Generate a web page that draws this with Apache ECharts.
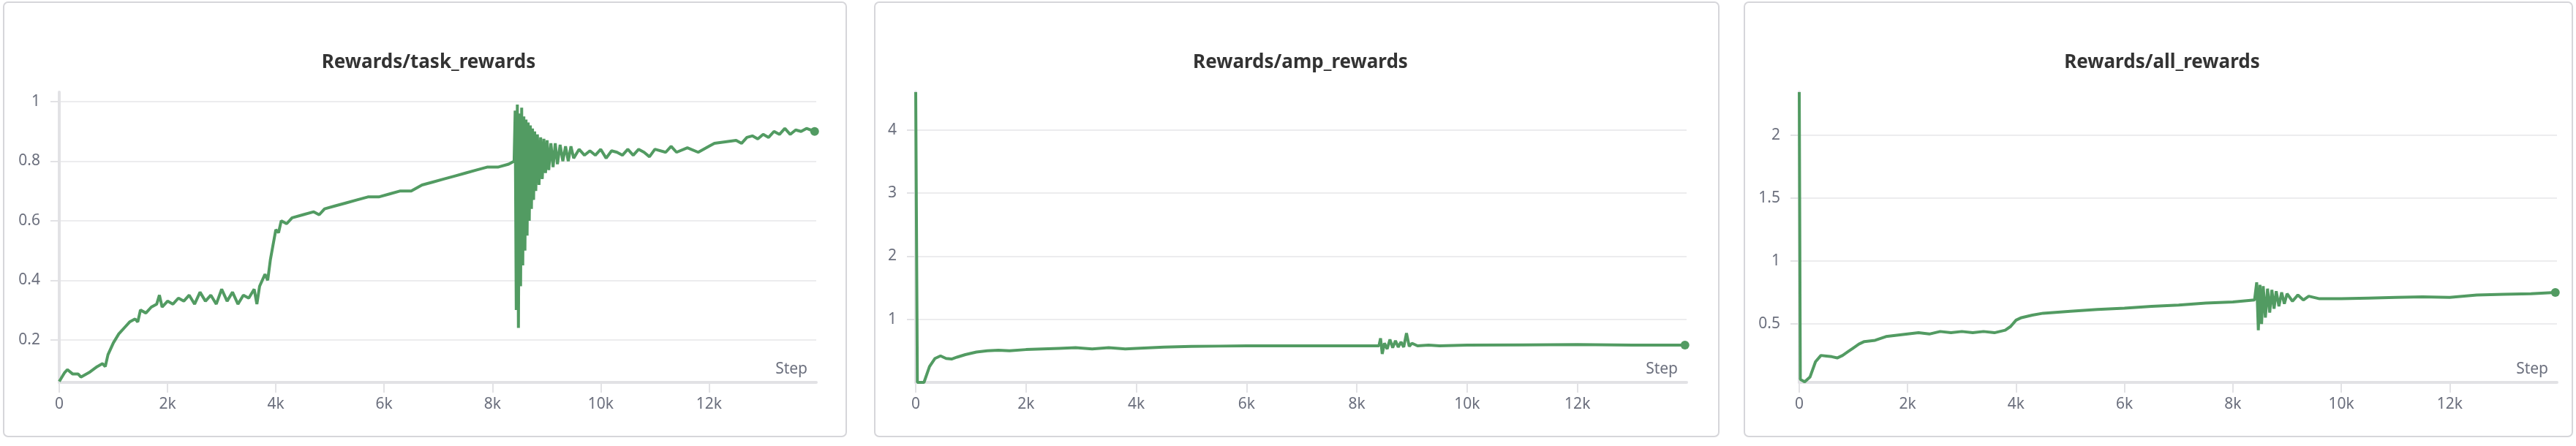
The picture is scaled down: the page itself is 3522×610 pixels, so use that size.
<!DOCTYPE html>
<html>
<head>
<meta charset="utf-8">
<script src="https://cdn.jsdelivr.net/npm/echarts@6/dist/echarts.min.js"></script>
<style>
html, body { margin: 0; padding: 0; background: #fff; }
#main { width: 3522px; height: 610px; }
</style>
</head>
<body>
<div id="main"></div>
<script>
// 三个面板的数据，都是从图上读出来的
var titles = ['Rewards/task_rewards', 'Rewards/amp_rewards', 'Rewards/all_rewards'];
var xTickLabels = ['0', '2k', '4k', '6k', '8k', '10k', '12k'];

var taskSteps = [0,100,150,250,350,400,550,700,800,850,900,1000,1100,1200,1300,1400,1450,1500,1600,1700,1800,1850,1900,2000,2100,2200,2300,2400,2500,2600,2700,2800,2900,3000,3100,3200,3300,3400,3500,3600,3650,3700,3800,3850,3900,3950,4000,4050,4100,4200,4300,4500,4700,4800,4900,5100,5300,5500,5700,5900,6100,6300,6500,6700,6900,7100,7300,7500,7700,7900,8100,8300,8400,
  8420,8440,8460,8480,8500,8520,8540,8560,8580,8600,8620,8640,8660,8680,8700,8720,8740,8760,8780,8800,8830,8860,8890,8920,8950,8980,9010,9040,9080,9120,9160,9200,9250,9300,9350,9400,9450,9500,9600,9700,9800,9900,10000,10100,10200,10300,10400,10500,10600,10700,10800,10900,11000,11200,11300,11400,11600,11800,12000,12100,12300,12500,12600,12700,12800,12900,13000,13100,13200,13300,13400,13500,13600,13700,13800,13950];
var taskValues = [0.06,0.09,0.10,0.085,0.085,0.075,0.09,0.11,0.12,0.11,0.15,0.19,0.22,0.24,0.26,0.27,0.26,0.30,0.29,0.31,0.32,0.35,0.31,0.33,0.32,0.34,0.33,0.35,0.32,0.36,0.33,0.35,0.32,0.37,0.33,0.36,0.32,0.35,0.34,0.37,0.32,0.38,0.42,0.40,0.47,0.52,0.57,0.56,0.60,0.59,0.61,0.62,0.63,0.62,0.64,0.65,0.66,0.67,0.68,0.68,0.69,0.70,0.70,0.72,0.73,0.74,0.75,0.76,0.77,0.78,0.78,0.79,0.80,
  0.97,0.30,0.99,0.24,0.96,0.38,0.98,0.45,0.95,0.50,0.94,0.55,0.93,0.60,0.92,0.64,0.91,0.67,0.90,0.70,0.89,0.72,0.88,0.74,0.875,0.76,0.87,0.77,0.86,0.78,0.86,0.79,0.855,0.80,0.85,0.80,0.85,0.81,0.84,0.82,0.835,0.82,0.84,0.81,0.835,0.83,0.82,0.84,0.82,0.84,0.83,0.815,0.84,0.83,0.85,0.83,0.845,0.83,0.85,0.86,0.865,0.87,0.86,0.88,0.885,0.875,0.89,0.88,0.90,0.89,0.91,0.89,0.905,0.90,0.91,0.90];

var ampSteps = [0,30,150,250,350,450,550,650,750,900,1100,1300,1500,1700,2000,2300,2600,2900,3200,3500,3800,4000,4500,5000,5500,6000,7000,8000,8400,8430,8460,8500,8550,8600,8650,8700,8750,8800,8850,8900,8950,9000,9100,9300,9500,10000,11000,12000,13000,13950];
var ampValues = [4.6,0.0,0.0,0.25,0.38,0.42,0.38,0.37,0.40,0.44,0.48,0.50,0.51,0.50,0.52,0.53,0.54,0.55,0.53,0.55,0.53,0.54,0.56,0.57,0.575,0.58,0.58,0.58,0.58,0.70,0.45,0.62,0.53,0.68,0.55,0.66,0.56,0.64,0.56,0.78,0.57,0.62,0.58,0.59,0.58,0.59,0.595,0.60,0.59,0.59];

var allSteps = [0,20,100,200,300,400,500,600,700,800,900,1000,1100,1200,1400,1600,1800,2000,2200,2400,2600,2800,3000,3200,3400,3600,3800,3900,4000,4100,4300,4500,5000,5500,6000,6500,7000,7500,8000,8400,
  8440,8470,8500,8530,8560,8600,8640,8680,8720,8760,8800,8850,8900,8950,9000,9100,9200,9300,9400,9600,10000,10500,11000,11500,12000,12500,13000,13500,13950];
var allValues = [2.34,0.06,0.04,0.08,0.20,0.25,0.245,0.24,0.23,0.25,0.28,0.31,0.34,0.36,0.37,0.40,0.41,0.42,0.43,0.42,0.44,0.43,0.44,0.43,0.44,0.43,0.45,0.48,0.53,0.55,0.57,0.585,0.60,0.615,0.625,0.64,0.65,0.665,0.675,0.69,
  0.83,0.45,0.81,0.50,0.80,0.55,0.78,0.59,0.77,0.62,0.76,0.64,0.75,0.66,0.74,0.68,0.73,0.69,0.72,0.70,0.70,0.705,0.71,0.715,0.71,0.73,0.735,0.74,0.75];

var yTicks = [[0.2, 0.4, 0.6, 0.8, 1], [1, 2, 3, 4], [0.5, 1, 1.5, 2]];
var yMin = [0.057, 0, 0.036];
var yMax = [1.032, 4.6, 2.34];

var stepsList = [taskSteps, ampSteps, allSteps];
var valuesList = [taskValues, ampValues, allValues];

// 面板位置
var boxes = [[5, 1157], [1196, 2350], [2385, 3517]];
var grids = [[81, 1035], [1252, 1054], [2460, 1036]];

var lineColor = '#529b62';
var labelColor = '#6b6f7d';
var axisGray = '#e2e2e5';

var option = {
  animation: false,
  title: [], grid: [], xAxis: [], yAxis: [], series: [], graphic: []
};

for (var i = 0; i < 3; i++) {
  var b = boxes[i], g = grids[i];
  option.graphic.push({
    type: 'rect', z: -10,
    shape: { x: b[0], y: 3, width: b[1] - b[0], height: 594, r: 6 },
    style: { fill: '#fff', stroke: '#d6d6da', lineWidth: 2 }
  });
  option.graphic.push({
    type: 'text',
    style: { text: 'Step', x: g[0] + g[1] - 12, y: 505, align: 'right', verticalAlign: 'middle',
      fill: labelColor, font: '21px "Noto Sans"' }
  });
  option.title.push({
    text: titles[i], left: (b[0] + b[1]) / 2, top: 68, textAlign: 'center',
    textStyle: { fontFamily: 'Noto Sans', fontSize: 26, fontWeight: 'bold', color: '#333' }
  });
  option.grid.push({ left: g[0], width: g[1], top: 126, height: 397 });
  option.xAxis.push({
    type: 'value', gridIndex: i, min: 0, max: 13980, interval: 2000,
    axisLine: { show: true, lineStyle: { color: axisGray, width: 4 } },
    axisTick: { show: true, length: 14, lineStyle: { color: axisGray, width: 2 } },
    splitLine: { show: false },
    axisLabel: {
      color: labelColor, fontFamily: 'Noto Sans', fontSize: 21, margin: 20,
      showMaxLabel: false,
      formatter: function (v) { return xTickLabels[Math.round(v / 2000)]; }
    }
  });
  option.yAxis.push({
    type: 'value', gridIndex: i, min: yMin[i], max: yMax[i],
    axisLine: { show: true, lineStyle: { color: axisGray, width: 4 } },
    axisTick: { show: true, length: 12, customValues: yTicks[i], lineStyle: { color: axisGray, width: 2 } },
    splitLine: { show: true, lineStyle: { color: '#ececee', width: 2 } },
    axisLabel: { customValues: yTicks[i], color: labelColor, fontFamily: 'Noto Sans', fontSize: 21, margin: 26 }
  });
  var d = [];
  for (var k = 0; k < stepsList[i].length; k++) d.push([stepsList[i][k], valuesList[i][k]]);
  option.series.push({
    type: 'line', xAxisIndex: i, yAxisIndex: i, data: d,
    showSymbol: false, lineStyle: { color: lineColor, width: 4 }, itemStyle: { color: lineColor },
    markPoint: {
      symbol: 'circle', symbolSize: 12, label: { show: false },
      itemStyle: { color: lineColor },
      data: [{ coord: d[d.length - 1] }]
    }
  });
}

var chart = echarts.init(document.getElementById('main'));
chart.setOption(option);
</script>
</body>
</html>
